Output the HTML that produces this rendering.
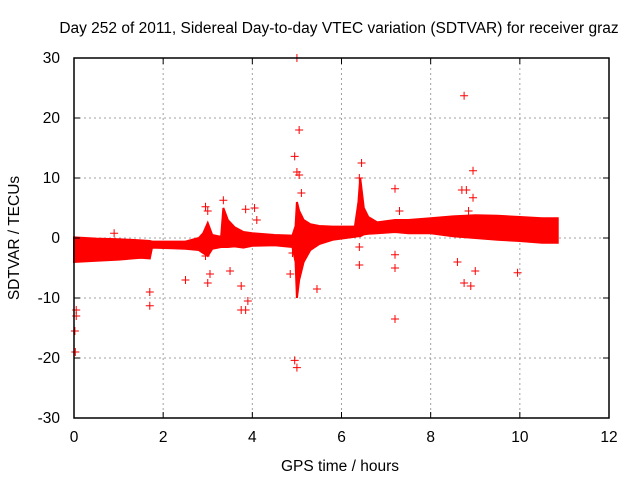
<!DOCTYPE html>
<html><head><meta charset="utf-8"><style>
body{margin:0;background:#fff;width:640px;height:480px;overflow:hidden}
svg text{font-family:"Liberation Sans",sans-serif;font-size:15.5px;fill:#000}
</style></head><body>
<svg id="chart" width="640" height="480">
<text x="339" y="33" text-anchor="middle">Day 252 of 2011, Sidereal Day-to-day VTEC variation (SDTVAR) for receiver graz</text>
<text x="340" y="471" text-anchor="middle">GPS time / hours</text>
<text transform="translate(19,238) rotate(-90)" text-anchor="middle">SDTVAR / TECUs</text>
<g id="grid"></g><g id="band"></g><g id="pts"></g><g id="axes"></g>
</svg>
<script>
const xTicks=[0,2,4,6,8,10,12];
const yTicks=[-30,-20,-10,0,10,20,30];
const bandHours=[0,0.5,1,1.5,1.7,1.75,2.2,2.5,2.8,2.9,3.0,3.1,3.3,3.35,3.45,3.6,3.8,4.0,4.5,4.9,4.97,5.0,5.05,5.15,5.3,5.5,5.8,6.3,6.38,6.42,6.5,6.6,6.8,7.2,7.5,8.0,8.5,9.0,9.5,10.0,10.5,10.85];
const bandUpper=[0.1,-0.1,-0.2,-0.4,-0.5,-0.6,-0.6,-0.6,0,0.8,2.5,0.5,0.2,5,3,1.8,1,0.8,0.5,0.4,2,6,4.5,3,2.3,2,1.9,1.9,6,10,5,3.5,2.6,3,3,3.3,3.6,3.8,3.7,3.5,3.3,3.3];
const bandLower=[-4,-3.8,-3.6,-3.3,-3.4,-1.6,-1.7,-1.8,-2,-2.5,-3,-1.8,-1.5,-1.5,-1.5,-1.4,-1.6,-1.3,-1.2,-1.5,-4,-10,-7,-4,-2,-1,-0.3,0.2,0.3,0.3,0.6,0.7,0.8,1,0.8,0.8,0.3,0,-0.3,-0.5,-0.8,-0.8];
const outX=[0.05,0.05,0.02,0.03,0.9,1.7,1.7,2.5,2.95,3.0,2.95,3.05,3.0,3.35,3.5,3.75,3.85,3.85,4.05,3.9,3.75,4.1,4.9,4.95,5.0,5.05,5.1,5.05,5.0,4.95,5.0,5.45,4.85,6.4,6.4,6.45,6.4,7.2,7.2,7.2,7.2,8.7,8.8,8.75,8.75,8.85,8.9,8.95,8.95,9.0,9.95,8.6,7.3];
const outY=[-12,-13,-15.5,-19,0.8,-9,-11.3,-7,5.2,4.5,-3,-6,-7.5,6.3,-5.5,-12,-12,4.8,5,-10.5,-8,3,-2.5,13.6,11,10.5,7.5,18,30,-20.4,-21.6,-8.5,-6,-1.5,-4.5,12.5,10,8.2,-2.8,-5,-13.5,8,8,23.7,-7.5,4.5,-8,11.2,6.7,-5.5,-5.8,-4,4.5];
const L=74,R=609,T=58,B=418;
const sx=v=>L+(v-0)/12*(R-L), sy=v=>B-(v+30)/60*(B-T);
const NS="http://www.w3.org/2000/svg";
function mk(tag,parent,attrs){const e=document.createElementNS(NS,tag);for(const k in attrs)e.setAttribute(k,attrs[k]);document.getElementById(parent).appendChild(e);return e;}
xTicks.forEach(t=>{const x=sx(t);
 if(t>0&&t<12){const g=mk('line','grid',{x1:x,x2:x,y1:T,y2:B,stroke:'#a0a0a0','stroke-dasharray':'2,3'});
 
 }
 const tx=mk('text','axes',{x:x,y:B+24,'text-anchor':'middle'});tx.textContent=t;
 
 
 mk('line','axes',{x1:x,x2:x,y1:B,y2:B-6,stroke:'#000'});mk('line','axes',{x1:x,x2:x,y1:T,y2:T+6,stroke:'#000'});});
yTicks.forEach(t=>{const y=sy(t);
 if(t>-30&&t<30){const g=mk('line','grid',{x1:L,x2:R,y1:y,y2:y,stroke:'#a0a0a0','stroke-dasharray':'2,3'});
 
 }
 const tx=mk('text','axes',{x:L-14,y:y+5,'text-anchor':'end'});tx.textContent=t;
 
 
 mk('line','axes',{x1:L,x2:L+6,y1:y,y2:y,stroke:'#000'});mk('line','axes',{x1:R,x2:R-6,y1:y,y2:y,stroke:'#000'});});
const fr=mk('rect','axes',{x:L,y:T,width:R-L,height:B-T,fill:'none',stroke:'#000','stroke-width':1.5});


let d='M'+bandHours.map((h,i)=>sx(h)+','+sy(bandUpper[i])).join('L');
for(let i=bandHours.length-1;i>=0;i--)d+='L'+sx(bandHours[i])+','+sy(bandLower[i]);
const band=mk('path','band',{d:d+'Z',fill:'#ff0000',stroke:'#ff0000','stroke-width':2});


outX.forEach((h,i)=>{const x=sx(h),y=sy(outY[i]);
 const p=mk('path','pts',{d:`M${x-4},${y}H${x+4}M${x},${y-4}V${y+4}`,stroke:'#ff0000','stroke-width':1});
 
 });
</script>
</body></html>
